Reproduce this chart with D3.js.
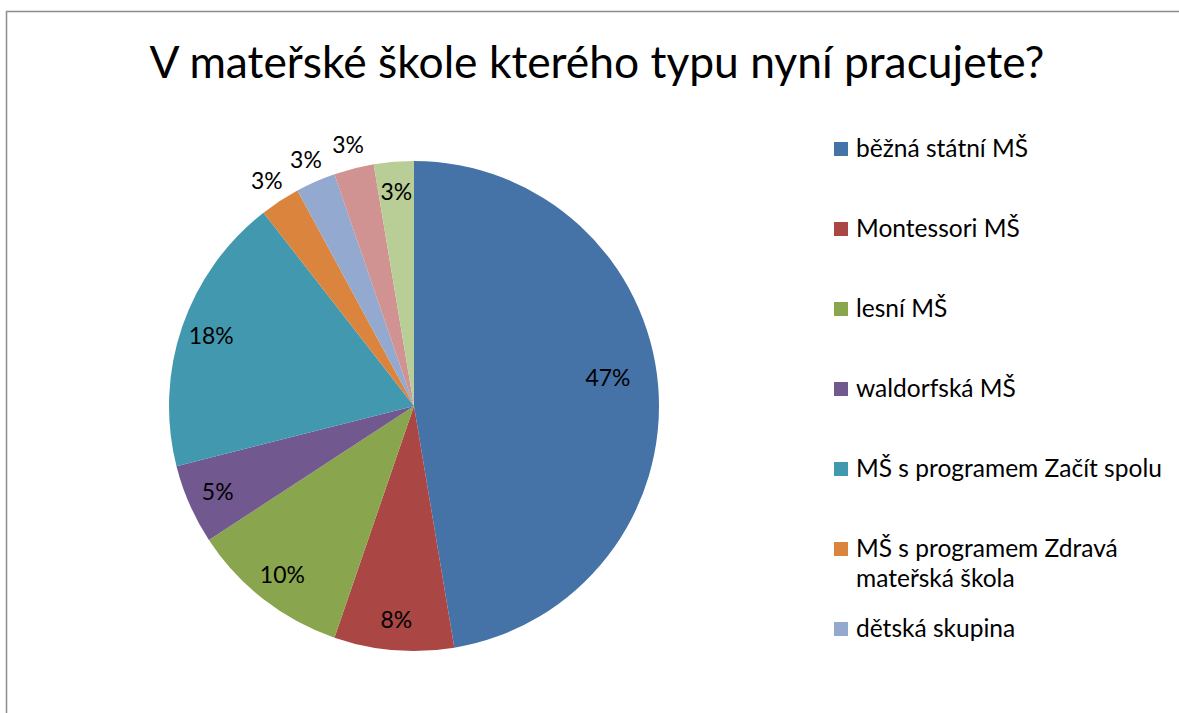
<!DOCTYPE html>
<html>
<head>
<meta charset="utf-8">
<script src="https://cdn.jsdelivr.net/npm/d3@7"></script>
<style>
  body { margin: 0; background: #fff; }
  svg { display: block; }
  text { font-family: Lato, "Open Sans", sans-serif; fill: #000; }
</style>
</head>
<body>
<svg id="chart"></svg>
<script>
// answers (counts) and the printed percentages
const categories = [
  "běžná státní MŠ",
  "Montessori MŠ",
  "lesní MŠ",
  "waldorfská MŠ",
  "MŠ s programem Začít spolu",
  "MŠ s programem Zdravá mateřská škola",
  "dětská skupina",
  "jiná",
  "nevím"
];
const counts = [18, 3, 4, 2, 7, 1, 1, 1, 1];
const pctLabels = ["47%", "8%", "10%", "5%", "18%", "3%", "3%", "3%", "3%"];
const colors = ["#4572A7", "#AA4643", "#89A54E", "#71588F", "#4198AF",
                "#DB843D", "#93A9CF", "#D19392", "#B9CD96"];
// legend wraps the long entry; only the entries that fit are shown
const legendLines = [
  ["běžná státní MŠ"],
  ["Montessori MŠ"],
  ["lesní MŠ"],
  ["waldorfská MŠ"],
  ["MŠ s programem Začít spolu"],
  ["MŠ s programem Zdravá", "mateřská škola"],
  ["dětská skupina"]
];

const width = 1179, height = 713;
const svg = d3.select("#chart").attr("width", width).attr("height", height);

// chart frame (runs off the right and bottom edge in the original)
svg.append("rect")
  .attr("x", 6.5).attr("y", 11.5)
  .attr("width", 1300).attr("height", 900)
  .attr("fill", "#fff")
  .attr("stroke", "#8c8c8c")
  .attr("stroke-width", 1.5);

// helper: font size that makes a sample string a given width
function fitSize(str, baseSize, targetW) {
  const t = svg.append("text").attr("font-size", baseSize).text(str);
  const w = t.node().getComputedTextLength();
  t.remove();
  return baseSize * targetW / w;
}

svg.append("text")
  .attr("x", 597).attr("y", 78)
  .attr("text-anchor", "middle")
  .attr("font-size", fitSize("V mateřské škole kterého typu nyní pracujete?", 46, 895))
  .text("V mateřské škole kterého typu nyní pracujete?");

// pie
const cx = 414, cy = 406, r = 245;
const pie = d3.pie().sort(null).value(d => d)(counts);
const arc = d3.arc().innerRadius(0).outerRadius(r);
const g = svg.append("g").attr("transform", `translate(${cx},${cy})`);

g.selectAll("path.slice")
  .data(pie).enter()
  .append("path")
    .attr("class", "slice")
    .attr("d", arc)
    .attr("fill", (d, i) => colors[i]);

// labels: inside for most, outside for the thin orange/blue/pink ones
const outside = [5, 6, 7];
const labelFont = fitSize("47%", 22, 45);
g.selectAll("text.pct")
  .data(pie).enter()
  .append("text")
    .attr("class", "pct")
    .attr("font-size", labelFont)
    .attr("text-anchor", "middle")
    .attr("dy", "0.35em")
    .attr("transform", (d, i) => {
      let rr, a = (d.startAngle + d.endAngle) / 2;
      if (outside.includes(i)) rr = r + 24;
      else if (d.endAngle - d.startAngle > 2) { rr = r * 0.8; a -= 0.06; }
      else rr = r * 0.875;
      return `translate(${rr * Math.sin(a)},${-rr * Math.cos(a)})`;
    })
    .text((d, i) => pctLabels[i]);

// legend
const legX = 834, legY0 = 157, legStep = 80, lineH = 30;
const legFont = fitSize("MŠ s programem Začít spolu", 24, 306);
const leg = svg.append("g");
legendLines.forEach((lines, i) => {
  const y = legY0 + i * legStep;
  leg.append("rect")
    .attr("x", legX).attr("y", y - 15)
    .attr("width", 14).attr("height", 14)
    .attr("fill", colors[i]);
  const t = leg.append("text")
    .attr("x", legX + 22).attr("y", y)
    .attr("font-size", legFont);
  lines.forEach((ln, j) => {
    t.append("tspan").attr("x", legX + 22).attr("y", y + j * lineH).text(ln);
  });
});
</script>
</body>
</html>
